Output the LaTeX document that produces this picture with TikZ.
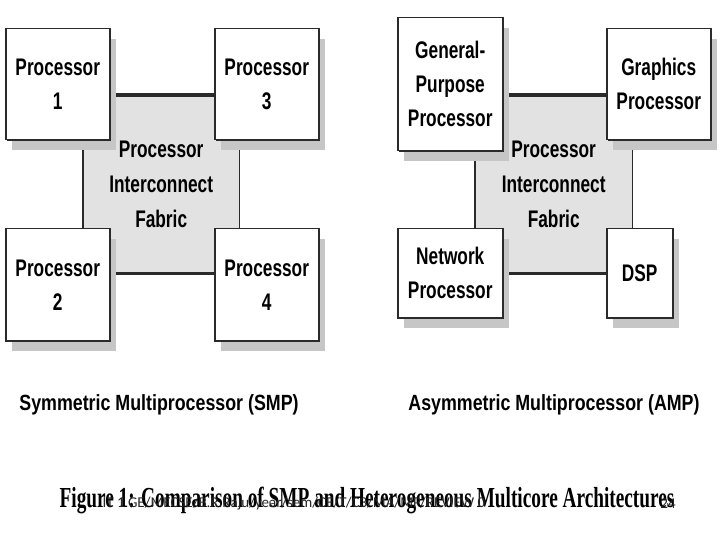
\documentclass[tikz,border=0pt]{standalone}
\usepackage{fontspec}
\setmainfont{Liberation Sans}
\newfontfamily\boxfont[FakeStretch=0.72]{Liberation Sans}
\newfontfamily\subcapfont[FakeStretch=0.81]{Liberation Sans}
\newfontfamily\figcapfont[FakeStretch=0.665]{Liberation Serif}
\newfontfamily\footfont{Carlito}
\usetikzlibrary{shadows}
\definecolor{fabgray}{HTML}{E2E2E2}
\definecolor{shgray}{HTML}{C6C6C6}
\definecolor{edge}{HTML}{2A2A2A}
\tikzset{
  procbox/.style={draw=edge, line width=1.5pt, fill=white, inner sep=0pt,
    anchor=north west, align=center,
    font=\boxfont\bfseries\fontsize{24}{34}\selectfont,
    drop shadow={shadow xshift=6pt, shadow yshift=-10pt, fill=shgray, opacity=1},
    drop shadow={shadow xshift=1.2pt, shadow yshift=-1.4pt, fill=edge, opacity=1}},
  fabbox/.style={fill=fabgray, inner sep=0pt, anchor=north west, align=center,
    font=\boxfont\bfseries\fontsize{24}{35}\selectfont},
  thickedge/.style={draw=edge, line width=3.2pt},
  thinedge/.style={draw=edge, line width=1.2pt},
  subcap/.style={font=\subcapfont\bfseries\fontsize{22}{26}\selectfont},
}
\begin{document}
\begin{tikzpicture}[x=1pt,y=-1pt]
\useasboundingbox (0,0) rectangle (720,540);
\fill[white] (0,0) rectangle (720,540);

% ---------- SMP ----------
\node[fabbox, minimum width=156pt, minimum height=178pt] (fabL) at (83,95) {Processor\\Interconnect\\Fabric};
\draw[thickedge] (fabL.north west) -- (fabL.north east);
\draw[thickedge] (fabL.south west) -- (fabL.south east);
\draw[thinedge] (fabL.north west) -- (fabL.south west);
\draw[thinedge] (fabL.north east) -- (fabL.south east);

\node[procbox, minimum width=104pt, minimum height=111pt] (p1) at (5,28) {Processor\\1};
\node[procbox, minimum width=104pt, minimum height=111pt] (p3) at (214,28) {Processor\\3};
\node[procbox, minimum width=104pt, minimum height=112pt] (p2) at (5,228) {Processor\\2};
\node[procbox, minimum width=104pt, minimum height=112pt] (p4) at (214,228) {Processor\\4};

\node[subcap] (smp) at (159,405) {Symmetric Multiprocessor (SMP)};

% ---------- AMP ----------
\node[fabbox, minimum width=157pt, minimum height=178pt] (fabR) at (475,95) {Processor\\Interconnect\\Fabric};
\draw[thickedge] (fabR.north west) -- (fabR.north east);
\draw[thickedge] (fabR.south west) -- (fabR.south east);
\draw[thinedge] (fabR.north west) -- (fabR.south west);
\draw[thinedge] (fabR.north east) -- (fabR.south east);

\node[procbox, minimum width=105pt, minimum height=133pt] (gpp) at (397,17) {General-\\Purpose\\Processor};
\node[procbox, minimum width=104pt, minimum height=111pt] (gfx) at (606,28) {Graphics\\Processor};
\node[procbox, minimum width=105pt, minimum height=89pt] (net) at (397,228) {Network\\Processor};
\node[procbox, minimum width=66pt, minimum height=89pt] (dsp) at (606,228) {DSP};

\node[subcap] (amp) at (554,405) {Asymmetric Multiprocessor (AMP)};

% ---------- captions ----------
\node[font=\figcapfont\bfseries\fontsize{29}{32}\selectfont] (fig) at (367,500)
  {Figure 1: Comparison of SMP and Heterogeneous Multicore Architectures};
\node[font=\footfont\fontsize{15}{17}\selectfont, text=black!85, anchor=west] (foot) at (99,504)
  {IT 1 GE/MECSE/B.R.Raju/year/sem/CE/T/C3/MA/MP/REVIEW 0};
\node[font=\footfont\fontsize{15}{17}\selectfont, text=black!85] (page) at (668,504) {24};
\end{tikzpicture}
\end{document}
